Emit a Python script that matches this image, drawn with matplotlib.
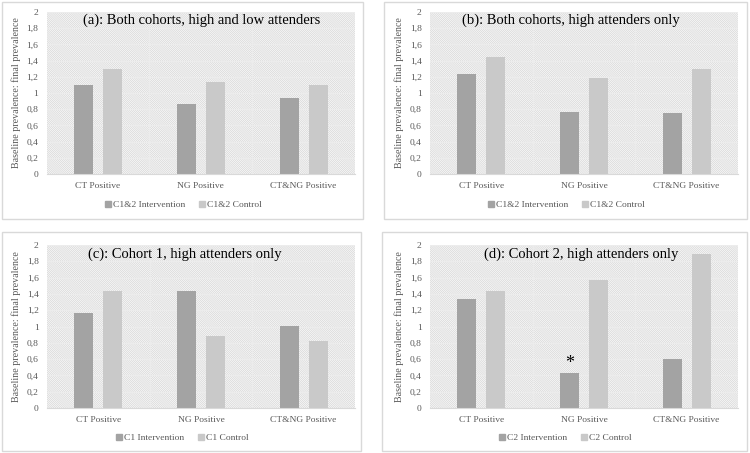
import matplotlib
matplotlib.use("Agg")
import matplotlib.pyplot as plt
import numpy as np
from matplotlib.patches import Rectangle
from matplotlib.lines import Line2D

categories = ["CT Positive", "NG Positive", "CT&NG Positive"]
yticks = [0, 0.2, 0.4, 0.6, 0.8, 1.0, 1.2, 1.4, 1.6, 1.8, 2.0]
ytick_labels = ["0", "0,2", "0,4", "0,6", "0,8", "1", "1,2", "1,4", "1,6", "1,8", "2"]

a_int = [1.10, 0.87, 0.94]
a_ctl = [1.30, 1.14, 1.10]
b_int = [1.24, 0.77, 0.75]
b_ctl = [1.44, 1.19, 1.30]
c_int = [1.16, 1.44, 1.01]
c_ctl = [1.43, 0.88, 0.82]
d_int = [1.34, 0.43, 0.60]
d_ctl = [1.43, 1.57, 1.89]

titles = ["(a): Both cohorts, high and low attenders",
          "(b): Both cohorts, high attenders only",
          "(c): Cohort 1, high attenders only",
          "(d): Cohort 2, high attenders only"]
legends = [("C1&2 Intervention", "C1&2 Control"),
           ("C1&2 Intervention", "C1&2 Control"),
           ("C1 Intervention", "C1 Control"),
           ("C2 Intervention", "C2 Control")]
series = [(a_int, a_ctl), (b_int, b_ctl), (c_int, c_ctl), (d_int, d_ctl)]
star_panel = 3
star_index = 1

plt.rcParams['font.family'] = ['Liberation Serif', 'DejaVu Serif']
plt.rcParams['hatch.linewidth'] = 0.5
plt.rcParams['hatch.color'] = '#d6d6d6'

W, H = 750, 453
fig = plt.figure(figsize=(7.5, 4.53), dpi=100)

# axes boxes in pixels: left, right, top, bottom
boxes = [(46.7, 355, 12, 174), (430, 738, 12, 174),
         (47, 355, 245, 408), (430, 738, 245, 408)]
frames = [(2, 363, 2, 219), (384, 747, 2, 219),
          (2, 361, 232, 451), (382, 747, 232, 451)]
title_pos = [(202, 20), (571, 20), (185, 254), (581, 254)]
legend_y = [205, 205, 438, 438]

int_color = '#a3a3a3'
ctl_color = '#c9c9c9'
tick_color = '#595959'

for fr in frames:
    l, r, t, b = fr
    fig.patches.append(Rectangle((l / W, 1 - b / H), (r - l) / W, (b - t) / H,
                                 transform=fig.transFigure, fill=False,
                                 edgecolor='#d9d9d9', linewidth=1.0))

x = np.arange(len(categories))
bw = 0.185
off = 0.141
for i, (box, (vi, vc)) in enumerate(zip(boxes, series)):
    l, r, t, b = box
    ax = fig.add_axes([l / W, 1 - b / H, (r - l) / W, (b - t) / H])
    ax.patch.set_facecolor('#fafafa')
    ax.patch.set_hatch('\\' * 16)
    ax.patch.set_edgecolor('#d6d6d6')
    ax.patch.set_linewidth(0)
    ax.set_xlim(-0.5, 2.5)
    ax.set_ylim(0, 2)
    for yv in yticks[1:]:
        ax.axhline(yv, color='#ececec', lw=1.0, zorder=1)
    for xv in [0.5, 1.5]:
        ax.axvline(xv, color='#ececec', lw=1.0, zorder=1)
    ax.bar(x - off, vi, bw, color=int_color, zorder=2)
    ax.bar(x + off, vc, bw, color=ctl_color, zorder=2)
    for s in ['top', 'right', 'left']:
        ax.spines[s].set_visible(False)
    ax.spines['bottom'].set_color('#d9d9d9')
    ax.set_yticks(yticks)
    ax.set_yticklabels(ytick_labels)
    ax.set_xticks(x)
    ax.set_xticklabels(categories)
    ax.tick_params(axis='both', length=0, labelsize=6.8, colors=tick_color, pad=6)
    ax.tick_params(axis='y', pad=6)
    ax.set_ylabel("Baseline prevalence: final prevalence", fontsize=7.2,
                  color=tick_color, labelpad=4)
    tx, ty = title_pos[i]
    fig.text(tx / W, 1 - ty / H, titles[i], fontsize=10.5, ha='center', va='center',
             color='black')
    if i == star_panel:
        ax.text(x[star_index] - off, vi[star_index] + 0.01, '*', ha='center',
                va='bottom', fontsize=13, color='black')
    fl, fr_, ft, fb = frames[i]
    handles = [Line2D([], [], marker='s', linestyle='none', markersize=4,
                      color=int_color),
               Line2D([], [], marker='s', linestyle='none', markersize=4,
                      color=ctl_color)]
    fig.legend(handles, legends[i], loc='center',
               bbox_to_anchor=(((fl + fr_) / 2) / W, 1 - legend_y[i] / H),
               ncol=2, frameon=False, fontsize=6.8, labelcolor=tick_color,
               handletextpad=0.1, columnspacing=1.2, handlelength=1.0)

fig.savefig('out.png', dpi=100)
